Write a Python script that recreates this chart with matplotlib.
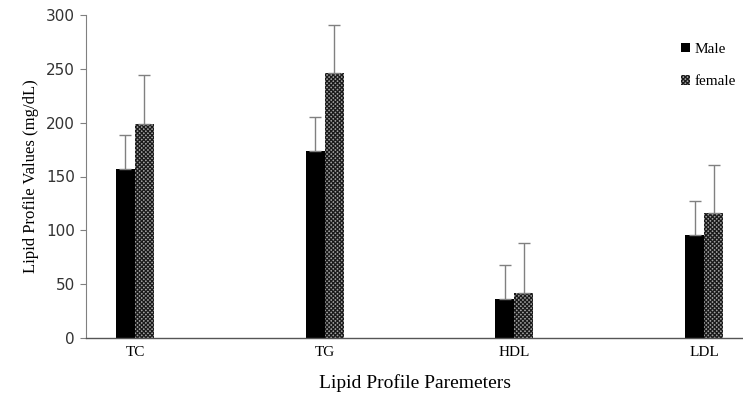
import matplotlib
matplotlib.use('Agg')
import matplotlib.pyplot as plt
import numpy as np

categories = ['TC', 'TG', 'HDL', 'LDL']
male = [157, 174, 36, 96]
male_err = [32, 31, 32, 31]
female = [199, 246, 42, 116]
female_err = [45, 45, 46, 45]

plt.rcParams['hatch.linewidth'] = 0.9
plt.rcParams['hatch.color'] = '#1a1a1a'
serif = 'Liberation Serif'

fig = plt.figure(figsize=(7.43, 4.0), dpi=100)
ax = fig.add_axes([86/743, 62/400, (753-86)/743, 323/400])

x = np.arange(len(categories))
w = 0.1
zeros = np.zeros(len(categories))
ax.bar(x - w/2, male, w, color='black', label='Male',
       yerr=[zeros, male_err], ecolor='#808080', capsize=4,
       error_kw={'elinewidth': 1, 'capthick': 1})
ax.bar(x + w/2, female, w, facecolor='#a0a0a0', hatch='xxxxxxxx', linewidth=0,
       edgecolor='#1a1a1a', label='female',
       yerr=[zeros, female_err], ecolor='#808080', capsize=4,
       error_kw={'elinewidth': 1, 'capthick': 1})

ax.set_xlim(-0.258, 3.258)
ax.set_ylim(0, 300)
ax.set_yticks(range(0, 301, 50))
ax.set_xticks(x)
ax.set_xticklabels(categories, fontfamily=serif, fontsize=11)
ax.tick_params(axis='x', length=0, pad=6)
ax.tick_params(axis='y', length=4, width=0.8, color='#808080', labelsize=11, pad=4)
for lab in ax.get_yticklabels():
    lab.set_fontfamily('DejaVu Sans')
    lab.set_color('#333333')

ax.spines['top'].set_visible(False)
ax.spines['right'].set_visible(False)
ax.spines['left'].set_color('#808080')
ax.spines['bottom'].set_color('#555555')
ax.spines['bottom'].set_linewidth(1.0)

ax.set_ylabel('Lipid Profile Values (mg/dL)', fontfamily=serif, fontsize=12, labelpad=5)
fig.text(415/743, 1 - 383/400, 'Lipid Profile Paremeters', fontfamily=serif,
         fontsize=14, ha='center', va='center')

leg = ax.legend(loc='upper left', bbox_to_anchor=((667-86)/(753-86), 1 - 14/323),
                frameon=False, prop={'family': serif, 'size': 11},
                handlelength=0.6, handleheight=0.6, handletextpad=0.3,
                labelspacing=1.25)

fig.savefig('out.png', dpi=100)
